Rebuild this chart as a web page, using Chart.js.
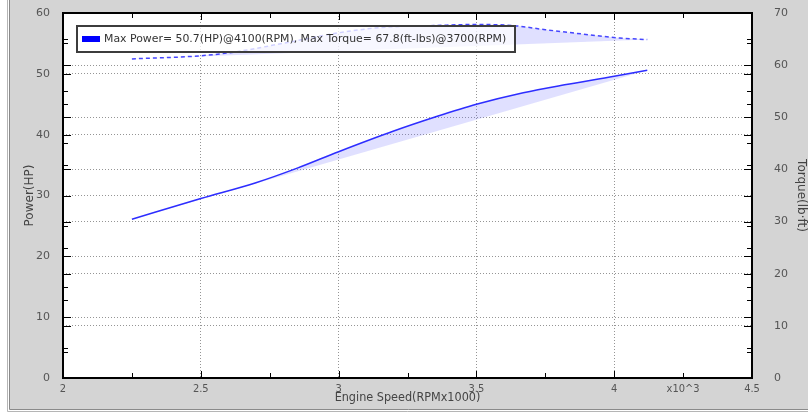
<!DOCTYPE html>
<html>
<head>
<meta charset="utf-8">
<script src="https://cdn.jsdelivr.net/npm/chart.js@4.4.1/dist/chart.umd.min.js"></script>
<style>
  body { margin: 0; background: #fff; }
  canvas { display: block; }
</style>
</head>
<body>
<canvas id="dyno" width="808" height="415"></canvas>
<script>
    // power curve (HP) vs engine speed (x1000 RPM)
    const powerRpm = [2.25, 2.5, 2.7, 2.85, 3.0, 3.2, 3.35, 3.5, 3.67, 3.82, 4.0, 4.12];
    const powerHp = [26.1, 29.5, 32.1, 34.5, 37.2, 40.6, 42.9, 45.0, 46.9, 48.2, 49.6, 50.6];

    // torque curve (lb-ft)
    const torqueRpm = [2.25, 2.5, 2.62, 2.8, 3.0, 3.15, 3.35, 3.5, 3.63, 3.75, 3.88, 4.02, 4.12];
    const torqueLbft = [61.2, 61.8, 62.5, 64.2, 66.2, 67.2, 67.6, 67.8, 67.6, 66.8, 66.0, 65.2, 64.9];

    const xTickLabels = ["2", "2.5", "3", "3.5", "4", "x10^3", "4.5"];
    const legendText = "Max Power= 50.7(HP)@4100(RPM), Max Torque= 67.8(ft-lbs)@3700(RPM)";

    const toPoints = (xs, ys) => xs.map((x, i) => ({ x: x, y: ys[i] }));
    // straight line from first to last point (shading is drawn between curve and this line)
    const chord = (xs, ys) => [
        { x: xs[0], y: ys[0] },
        { x: xs[xs.length - 1], y: ys[ys.length - 1] },
    ];

    const shade = "rgba(115, 115, 255, 0.22)";
    const dotted = "rgba(130, 130, 130, 0.85)";

    // no extra room for edge labels, the plot box is fixed by the paddings below
    const noEdgePad = (s) => {
        s.paddingTop = 0;
        s.paddingBottom = 0;
        s.paddingLeft = 0;
        s.paddingRight = 0;
    };

    // grey frame + white plot area
    const framePlugin = {
        id: "frame",
        beforeDraw(chart) {
            const ctx = chart.ctx;
            const a = chart.chartArea;
            ctx.save();
            ctx.fillStyle = "#ffffff";
            ctx.fillRect(0, 0, chart.width, chart.height);
            ctx.fillStyle = "#d4d4d4";
            ctx.fillRect(9, 0, chart.width - 9, 409);
            ctx.strokeStyle = "#8a8a8a";
            ctx.lineWidth = 1;
            ctx.beginPath();
            ctx.moveTo(9.5, 0);
            ctx.lineTo(9.5, 409.5);
            ctx.lineTo(chart.width, 409.5);
            ctx.stroke();
            ctx.strokeStyle = "#b5b5b5";
            ctx.beginPath();
            ctx.moveTo(7.5, 0);
            ctx.lineTo(7.5, 411.5);
            ctx.lineTo(chart.width, 411.5);
            ctx.stroke();
            ctx.fillStyle = "#ffffff";
            ctx.fillRect(a.left, a.top, a.right - a.left, a.bottom - a.top);
            ctx.restore();
        },
        afterDatasetsDraw(chart) {
            const ctx = chart.ctx;
            const a = chart.chartArea;
            const x = chart.scales.x;
            const yl = chart.scales.y;
            const yr = chart.scales.y1;
            ctx.save();
            ctx.strokeStyle = "#000";
            ctx.lineWidth = 1;
            ctx.beginPath();
            // inward tick marks, bottom and top
            for (let v = 2.25; v < 4.5; v += 0.25) {
                const px = Math.round(x.getPixelForValue(v)) + 0.5;
                const len = v % 0.5 === 0 ? 7 : 5;
                ctx.moveTo(px, a.bottom);
                ctx.lineTo(px, a.bottom - len);
                ctx.moveTo(px, a.top);
                ctx.lineTo(px, a.top + len);
            }
            // left and right edges carry both axes' ticks
            for (let v = 5; v < 60; v += 5) {
                const py = Math.round(yl.getPixelForValue(v)) + 0.5;
                const len = v % 10 === 0 ? 8 : 5;
                ctx.moveTo(a.left, py);
                ctx.lineTo(a.left + len, py);
                ctx.moveTo(a.right, py);
                ctx.lineTo(a.right - len, py);
            }
            for (let v = 5; v < 70; v += 5) {
                const py = Math.round(yr.getPixelForValue(v)) + 0.5;
                const len = v % 10 === 0 ? 8 : 5;
                ctx.moveTo(a.left, py);
                ctx.lineTo(a.left + len, py);
                ctx.moveTo(a.right, py);
                ctx.lineTo(a.right - len, py);
            }
            ctx.stroke();

            // legend box
            const lx = a.left + 14, ly = a.top + 13, lw = 438, lh = 26;
            ctx.fillStyle = "rgba(255, 255, 255, 0.75)";
            ctx.fillRect(lx, ly, lw, lh);
            ctx.strokeStyle = "#3c3c3c";
            ctx.lineWidth = 2;
            ctx.strokeRect(lx, ly, lw, lh);
            ctx.fillStyle = "#0000ff";
            ctx.fillRect(lx + 5, ly + 10, 18, 6);
            ctx.fillStyle = "#333";
            ctx.font = "10.9px 'DejaVu Sans'";
            ctx.textBaseline = "middle";
            ctx.fillText(legendText, lx + 27, ly + lh / 2 + 0.5);

            // plot border
            ctx.strokeStyle = "#000";
            ctx.lineWidth = 2;
            ctx.strokeRect(a.left, a.top, a.right - a.left, a.bottom - a.top);
            ctx.restore();
        },
    };

    function createChart() {
        const context = document.getElementById("dyno");

        const chartData = {
            datasets: [
                {
                    label: "Power",
                    data: toPoints(powerRpm, powerHp),
                    yAxisID: "y",
                    borderColor: "rgb(45, 45, 255)",
                    borderWidth: 1.5,
                    pointRadius: 0,
                    cubicInterpolationMode: "monotone",
                    fill: { target: 1, above: shade, below: shade },
                },
                {
                    label: "power chord",
                    data: chord(powerRpm, powerHp),
                    yAxisID: "y",
                    borderWidth: 0,
                    borderColor: "rgba(0,0,0,0)",
                    pointRadius: 0,
                    fill: false,
                },
                {
                    label: "Torque",
                    data: toPoints(torqueRpm, torqueLbft),
                    yAxisID: "y1",
                    borderColor: "rgb(70, 70, 255)",
                    borderWidth: 1.5,
                    borderDash: [4, 3],
                    pointRadius: 0,
                    cubicInterpolationMode: "monotone",
                    fill: { target: 3, above: shade, below: shade },
                },
                {
                    label: "torque chord",
                    data: chord(torqueRpm, torqueLbft),
                    yAxisID: "y1",
                    borderWidth: 0,
                    borderColor: "rgba(0,0,0,0)",
                    pointRadius: 0,
                    fill: false,
                },
            ],
        };

        const config = {
            type: "line",
            data: chartData,
            plugins: [framePlugin],
            options: {
                responsive: false,
                animation: false,
                devicePixelRatio: 1,
                layout: { padding: { top: 13, left: 0, right: 0, bottom: 0 } },
                plugins: {
                    legend: { display: false },
                    tooltip: { enabled: false },
                },
                scales: {
                    x: {
                        type: "linear",
                        position: "bottom",
                        min: 2,
                        max: 4.5,
                        afterFit: (s) => { s.height = 37; noEdgePad(s); },
                        afterBuildTicks: (s) => {
                            s.ticks = [2, 2.5, 3, 3.5, 4, 4.25, 4.5].map((v) => ({ value: v }));
                        },
                        ticks: {
                            autoSkip: false,
                            maxRotation: 0,
                            padding: 5,
                            color: "#555",
                            font: { family: "'DejaVu Sans Condensed', 'DejaVu Sans'", size: 11 },
                            callback: (v, i) => xTickLabels[i],
                        },
                        grid: {
                            drawTicks: false,
                            lineWidth: 1,
                            color: (c) => (c.tick && c.tick.value > 2 && c.tick.value < 4.5 && c.tick.value !== 4.25 ? dotted : "rgba(0,0,0,0)"),
                        },
                        border: { display: false, dash: [1, 2] },
                        title: {
                            display: true,
                            text: "Engine Speed(RPMx1000)",
                            color: "#444",
                            font: { family: "'DejaVu Sans Condensed', 'DejaVu Sans'", size: 12.5 },
                            padding: { top: 0, bottom: 10 },
                        },
                    },
                    y: {
                        position: "left",
                        min: 0,
                        max: 60,
                        afterFit: (s) => { s.width = 63; noEdgePad(s); },
                        ticks: {
                            stepSize: 10,
                            padding: 13,
                            color: "#555",
                            font: { family: "'DejaVu Sans'", size: 11 },
                        },
                        grid: {
                            drawTicks: false,
                            color: (c) => (c.tick && c.tick.value > 0 && c.tick.value < 60 ? dotted : "rgba(0,0,0,0)"),
                        },
                        border: { display: false, dash: [1, 2] },
                        title: {
                            display: true,
                            text: "Power(HP)",
                            color: "#444",
                            font: { family: "'DejaVu Sans'", size: 12 },
                            padding: { top: 23, bottom: 0 },
                        },
                    },
                    y1: {
                        position: "right",
                        min: 0,
                        max: 70,
                        afterFit: (s) => { s.width = 56; noEdgePad(s); },
                        ticks: {
                            stepSize: 10,
                            padding: 22,
                            color: "#555",
                            font: { family: "'DejaVu Sans'", size: 11 },
                        },
                        grid: {
                            drawTicks: false,
                            color: (c) => (c.tick && c.tick.value > 0 && c.tick.value < 70 ? dotted : "rgba(0,0,0,0)"),
                        },
                        border: { display: false, dash: [1, 2] },
                        title: {
                            display: true,
                            text: "Torque(lb·ft)",
                            color: "#444",
                            font: { family: "'DejaVu Sans'", size: 12 },
                            padding: { top: 0, bottom: 0 },
                        },
                    },
                },
            },
        };

        const myChart = new Chart(context, config);
    }

    createChart();
</script>
</body>
</html>
